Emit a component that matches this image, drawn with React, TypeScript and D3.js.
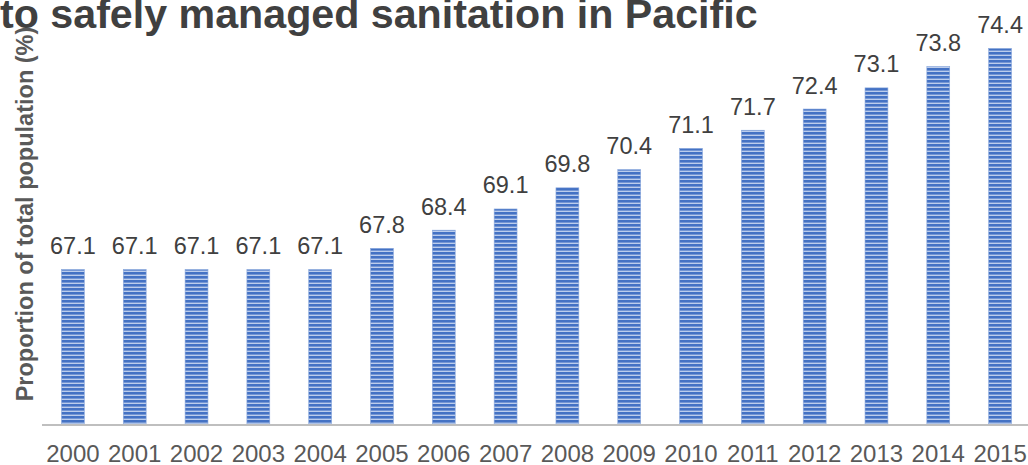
import React from "react";
import * as d3 from "d3";

const years = ["2000","2001","2002","2003","2004","2005","2006","2007","2008","2009","2010","2011","2012","2013","2014","2015"];
const values = [67.1, 67.1, 67.1, 67.1, 67.1, 67.8, 68.4, 69.1, 69.8, 70.4, 71.1, 71.7, 72.4, 73.1, 73.8, 74.4];
const titleText = "to safely managed sanitation in Pacific";
const yAxisLabel = "Proportion of total population (%)";

const W = 1028;
const H = 465;
const FONT = "'Liberation Sans', Arial, Helvetica, sans-serif";

export default function App() {
  const x = d3.scaleBand<string>().domain(years).range([42, 1031]).paddingInner(0.63).paddingOuter(0.315);
  const y = d3.scaleLinear().domain([62, 76]).range([424, 0]);
  const base = y(62);

  return (
    <svg width={W} height={H} style={{ position: "absolute", left: 0, top: 0, background: "#fff" }} fontFamily={FONT}>
      <defs>
        <pattern id="stripes" patternUnits="userSpaceOnUse" width={8} height={4}>
          <rect x={0} y={0} width={8} height={4} fill="#4472c4" />
          <rect x={0} y={2.6} width={8} height={1.4} fill="#bccdec" />
        </pattern>
      </defs>
      <text x={0} y={28} fontSize={41.2} fontWeight="bold" fill="#404040">{titleText}</text>
      <text transform={`translate(33,214) rotate(-90)`} textAnchor="middle" fontSize={23.5} fontWeight="bold" fill="#595959">{yAxisLabel}</text>
      {years.map((yr, i) => {
        const bx = x(yr) as number;
        const top = y(values[i]);
        return (
          <g key={yr}>
            <rect x={bx} y={top} width={x.bandwidth()} height={base - top} fill="url(#stripes)" stroke="#8aa8dc" strokeWidth={0.6} />
            <text x={bx + x.bandwidth() / 2} y={top - 15.5} textAnchor="middle" fontSize={23.5} fill="#404040">{values[i].toFixed(1)}</text>
            <text x={bx + x.bandwidth() / 2} y={462} textAnchor="middle" fontSize={24} fill="#595959">{yr}</text>
          </g>
        );
      })}
      <line x1={42} x2={W} y1={base + 1} y2={base + 1} stroke="#bfbfbf" strokeWidth={2} />
    </svg>
  );
}
